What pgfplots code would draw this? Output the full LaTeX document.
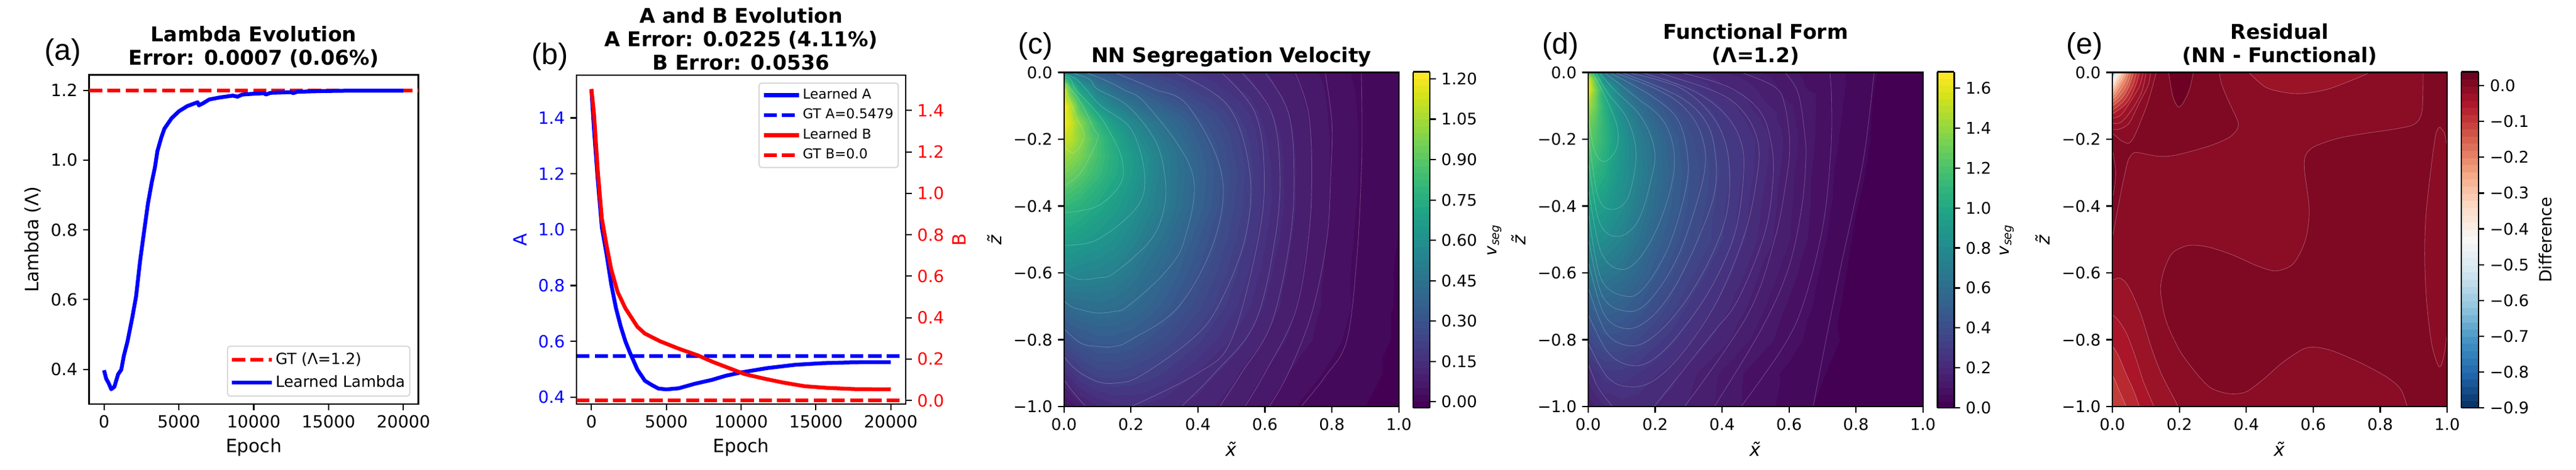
\documentclass[border=0pt]{standalone}
\usepackage{fontspec}
\setmainfont{DejaVu Sans}
\newfontfamily\letfam{Liberation Sans}
\usepackage{pgfplots}
\pgfplotsset{compat=1.18}
\newcommand\tickA{\fontsize{6.58}{8}\selectfont}
\newcommand\tickC{\fontsize{6.28}{8}\selectfont}
\newcommand\labf{\fontsize{7.15}{8.6}\selectfont}
\newcommand\titf{\fontsize{7.95}{9.15}\selectfont\bfseries}
\newcommand\letf{\fontsize{11.56}{13}\selectfont\letfam}
\newcommand\cblab{\fontsize{6.5}{8}\selectfont}
\pgfplotsset{
  colorbar shift/.style={},
  colormap={vir}{samples of colormap=(50 of viridis)},
  colormap={rdbu}{rgb255=(5,48,97) rgb255=(33,102,172) rgb255=(67,147,195) rgb255=(146,197,222) rgb255=(209,229,240) rgb255=(247,247,247) rgb255=(253,219,199) rgb255=(244,165,130) rgb255=(214,96,77) rgb255=(178,24,43) rgb255=(103,0,31)},
  base/.style={
    scale only axis, anchor=south west,
    tick align=outside, xtick pos=bottom, ytick pos=left,
    major tick length=2.3bp,
    tick style={black,line width=.524bp},
    axis line style={line width=.524bp},
    xlabel=Epoch,
    xlabel style={font=\labf,at={(axis description cs:0.5,-0.131)},anchor=center},
    tick label style={inner sep=2pt},
    scaled ticks=false,
    title style={font=\titf,align=center,at={(0.5,1)},anchor=south,inner sep=0pt},
    legend cell align=left,
    line/.style={line width=1.5bp,line join=round},
    dsh/.style={line width=1.5bp,dash pattern=on 5.1bp off 2bp},
    legend image code/.code={\draw[##1] (0,0) -- (13.2bp,0);\path (0,0) -- (15.4bp,0);},
  },
  field/.style={
    base, width=130.32bp, height=130.18bp,
    xmin=0,xmax=1,ymin=-1,ymax=0,
    axis on top,
    xtick={0,.2,.4,.6,.8,1},xticklabels={0.0,0.2,0.4,0.6,0.8,1.0},
    ytick={0,-.2,-.4,-.6,-.8,-1},yticklabels={0.0,−0.2,−0.4,−0.6,−0.8,−1.0},
    tick label style={font=\tickC},
    xlabel={\textit{\~x}},
    xlabel style={at={(axis description cs:0.5,-0.127)},anchor=center},
    ylabel={\textit{\~z}},
    ylabel style={font=\labf,at={(axis description cs:-0.208,0.5)},anchor=center},
  },
  cb/.style={
    scale only axis, at={(parent axis.south east)}, anchor=south west,
    height=130.9bp, yshift=-.48bp,
    tick align=outside, ytick pos=right, yticklabel pos=right,
    major tick length=2.3bp,
    tick style={black,line width=.524bp},
    axis line style={line width=.524bp},
    tick label style={font=\tickC,inner sep=2pt},
  },
  reg/.style={draw=white,draw opacity=.3,line width=.2bp,fill=#1,smooth,tension=.5,forget plot},
  cl/.style={draw=white,draw opacity=.24,line width=.2bp,smooth,tension=.6,forget plot},
}
\definecolor{eA}{HTML}{7F0823}
\definecolor{eB}{HTML}{8A0C25}
\definecolor{eC}{HTML}{9A1327}
\definecolor{eD}{HTML}{AA1529}
\definecolor{eE}{HTML}{B82A30}
\definecolor{eF}{HTML}{C33D3B}
\definecolor{eZ}{HTML}{6D0023}
\definecolor{k1}{RGB}{149,15,38}
\definecolor{k2}{RGB}{210,88,73}
\definecolor{k3}{RGB}{219,107,85}
\definecolor{k4}{RGB}{229,131,104}
\definecolor{k5}{RGB}{240,156,123}
\definecolor{k6}{RGB}{246,183,153}
\definecolor{k7}{RGB}{250,208,185}
\definecolor{k8}{RGB}{251,229,216}
\definecolor{k9}{RGB}{241,241,241}
\definecolor{k10}{RGB}{207,228,239}
\definecolor{k11}{RGB}{110,170,210}
\begin{document}
\begin{tikzpicture}
\path[use as bounding box] (0,0) rectangle (1002.72bp,182.88bp);
% ---------------- (a)
\begin{axis}[base,at={(34.66bp,25.44bp)},width=128.2bp,height=128.28bp,
  xmin=-1000,xmax=21000,ymin=.3004,ymax=1.2446,
  xtick={0,5000,10000,15000,20000},xticklabels={0,5000,10000,15000,20000},
  ytick={.4,.6,.8,1,1.2},yticklabels={0.4,0.6,0.8,1.0,1.2},
  tick label style={font=\tickA},
  ylabel={Lambda (Λ)},
  ylabel style={font=\labf,at={(axis description cs:-0.17,0.5)},anchor=center},
  title style={yshift=-3.4bp},
  title={Lambda Evolution\\Error: 0.0007 (0.06\%)},
  legend style={font=\fontsize{6.03}{8}\selectfont,at={(0.9757,0.0224)},anchor=south east,draw=black!15,rounded corners=1bp,line width=.5bp,row sep=2.9bp,inner xsep=1bp,inner ysep=2.15bp,nodes={inner xsep=.8bp,inner ysep=0pt,text height=4.8bp,text depth=1.3bp}},
]
\addplot[red,dsh] coordinates {(-1000,1.2) (21000,1.2)};
\addlegendentry{GT (Λ=1.2)}
\addplot[blue,line] coordinates {(0,.3975)(147,.373)(315,.36)(483,.343)(693,.35)(944,.386)(1154,.399)(1322,.438)(1574,.481)(1889,.549)(2140,.609)(2413,.712)(2686,.798)(2938,.876)(3190,.936)(3400,.979)(3568,1.026)(3820,1.064)(4030,1.09)(4512,1.12)(5000,1.14)(5561,1.155)(6254,1.166)(6338,1.157)(6611,1.163)(7030,1.174)(7765,1.18)(8604,1.185)(8919,1.182)(9234,1.188)(9864,1.19)(10703,1.192)(10808,1.188)(11123,1.193)(12487,1.195)(12634,1.192)(12907,1.196)(14480,1.198)(16160,1.199)(20000,1.1993)};
\addlegendentry{Learned Lambda}
\end{axis}
% ---------------- (b)
\begin{axis}[base,at={(224.4bp,25.44bp)},width=128.16bp,height=128.16bp,
  xmin=-1000,xmax=21000,ymin=.3753,ymax=1.5534,
  xtick={0,5000,10000,15000,20000},xticklabels={0,5000,10000,15000,20000},
  ytick={.4,.6,.8,1,1.2,1.4},yticklabels={0.4,0.6,0.8,1.0,1.2,1.4},
  tick label style={font=\tickA},
  yticklabel style={blue},
  ylabel={A},
  ylabel style={font=\labf,blue,at={(axis description cs:-0.1715,0.5)},anchor=center},
  title style={yshift=-4.2bp},
  title={A and B Evolution\\A Error: 0.0225 (4.11\%)\\B Error: 0.0536},
]
\addplot[blue,line] coordinates {(0,1.5)(168,1.362)(420,1.18)(693,1.008)(1008,.912)(1323,.804)(1639,.719)(1954,.654)(2269,.60)(2584,.558)(3067,.499)(3571,.459)(4055,.443)(4475,.431)(5000,.428)(5840,.432)(6890,.448)(8046,.462)(8991,.477)(10042,.489)(11722,.504)(13613,.516)(15504,.522)(17605,.525)(20000,.5254)};
\addplot[blue,dsh] coordinates {(-1000,.5479)(21000,.5479)};
\end{axis}
\begin{axis}[base,at={(224.4bp,25.44bp)},width=128.16bp,height=128.16bp,
  xmin=-1000,xmax=21000,ymin=-.0174,ymax=1.5707,
  xtick=\empty,xlabel={},ytick pos=right,yticklabel pos=right,
  ytick={0,.2,.4,.6,.8,1,1.2,1.4},yticklabels={0.0,0.2,0.4,0.6,0.8,1.0,1.2,1.4},
  tick label style={font=\tickA},
  yticklabel style={red},
  ylabel={B},
  ylabel style={font=\labf,red,at={(axis description cs:1.163,0.5)},anchor=center},
  legend style={font=\fontsize{5.3}{6.5}\selectfont,at={(0.979,0.978)},anchor=north east,draw=black!15,rounded corners=1bp,line width=.5bp,row sep=2.8bp,inner xsep=1bp,inner ysep=2.25bp,nodes={inner xsep=.8bp,inner ysep=0pt,text height=3.9bp,text depth=1.1bp}},
  legend image code/.code={\draw[#1] (0,0) -- (12bp,0);\path (0,0) -- (13.7bp,0);},
]
\addlegendimage{blue,line}\addlegendentry{Learned A}
\addlegendimage{blue,dsh}\addlegendentry{GT A=0.5479}
\addplot[red,line] coordinates {(0,1.504)(168,1.386)(420,1.111)(693,.879)(1008,.749)(1323,.633)(1744,.525)(2269,.445)(3067,.356)(3571,.323)(4580,.286)(5840,.25)(7101,.218)(8151,.185)(9201,.156)(10251,.127)(11512,.106)(12773,.087)(14243,.069)(15714,.061)(17605,.055)(20000,.0536)};
\addlegendentry{Learned B}
\addplot[red,dsh] coordinates {(-1000,0)(21000,0)};
\addlegendentry{GT B=0.0}
\end{axis}
% ---------------- (c)
\begin{axis}[field,at={(414.17bp,24.48bp)},
  title style={yshift=-4.1bp},
  title={NN Segregation Velocity},
  colormap name=vir, colormap access=piecewise constant,
  point meta min=-.022,point meta max=1.226,
  colorbar sampled={surf,shader=flat mean,samples=51},
  colorbar style={cb,width=6.55bp,xshift=5.52bp,
    ytick={0,.15,.3,.45,.6,.75,.9,1.05,1.2},yticklabels={0.00,0.15,0.30,0.45,0.60,0.75,0.90,1.05,1.20},
    ylabel={\textit{v}\textsubscript{\textit{seg}}},
    ylabel style={font=\cblab,at={(axis description cs:4.85,0.5)},anchor=center}},
]
\addplot[surf,shader=interp,mesh/cols=15,point meta=explicit] coordinates {
(0,0)[.55](.02,0)[.5](.05,0)[.42](.1,0)[.34](.15,0)[.3](.2,0)[.26](.25,0)[.23](.3,0)[.21](.4,0)[.17](.5,0)[.14](.6,0)[.105](.7,0)[.07](.8,0)[.04](.9,0)[.018](1,0)[.004]
(0,-.02)[.85](.02,-.02)[.68](.05,-.02)[.53](.1,-.02)[.41](.15,-.02)[.35](.2,-.02)[.3](.25,-.02)[.27](.3,-.02)[.24](.4,-.02)[.19](.5,-.02)[.15](.6,-.02)[.11](.7,-.02)[.075](.8,-.02)[.042](.9,-.02)[.018](1,-.02)[.004]
(0,-.05)[1.12](.02,-.05)[.88](.05,-.05)[.68](.1,-.05)[.51](.15,-.05)[.42](.2,-.05)[.36](.25,-.05)[.32](.3,-.05)[.28](.4,-.05)[.215](.5,-.05)[.165](.6,-.05)[.115](.7,-.05)[.08](.8,-.05)[.045](.9,-.05)[.02](1,-.05)[.004]
(0,-.1)[1.22](.02,-.1)[1.08](.05,-.1)[.85](.1,-.1)[.64](.15,-.1)[.53](.2,-.1)[.46](.25,-.1)[.4](.3,-.1)[.35](.4,-.1)[.27](.5,-.1)[.2](.6,-.1)[.13](.7,-.1)[.085](.8,-.1)[.047](.9,-.1)[.021](1,-.1)[.004]
(0,-.15)[1.2](.02,-.15)[1.13](.05,-.15)[.99](.1,-.15)[.79](.15,-.15)[.66](.2,-.15)[.56](.25,-.15)[.49](.3,-.15)[.43](.4,-.15)[.32](.5,-.15)[.23](.6,-.15)[.145](.7,-.15)[.09](.8,-.15)[.048](.9,-.15)[.022](1,-.15)[.004]
(0,-.2)[1.12](.02,-.2)[1.09](.05,-.2)[1.0](.1,-.2)[.85](.15,-.2)[.73](.2,-.2)[.62](.25,-.2)[.54](.3,-.2)[.47](.4,-.2)[.35](.5,-.2)[.25](.6,-.2)[.155](.7,-.2)[.095](.8,-.2)[.05](.9,-.2)[.022](1,-.2)[.004]
(0,-.25)[1.03](.02,-.25)[1.01](.05,-.25)[.96](.1,-.25)[.85](.15,-.25)[.75](.2,-.25)[.66](.25,-.25)[.58](.3,-.25)[.5](.4,-.25)[.37](.5,-.25)[.26](.6,-.25)[.16](.7,-.25)[.097](.8,-.25)[.05](.9,-.25)[.022](1,-.25)[.004]
(0,-.3)[.96](.02,-.3)[.94](.05,-.3)[.9](.1,-.3)[.82](.15,-.3)[.74](.2,-.3)[.66](.25,-.3)[.58](.3,-.3)[.5](.4,-.3)[.38](.5,-.3)[.27](.6,-.3)[.165](.7,-.3)[.098](.8,-.3)[.05](.9,-.3)[.022](1,-.3)[.004]
(0,-.4)[.8](.02,-.4)[.79](.05,-.4)[.77](.1,-.4)[.72](.15,-.4)[.67](.2,-.4)[.61](.25,-.4)[.55](.3,-.4)[.49](.4,-.4)[.37](.5,-.4)[.26](.6,-.4)[.165](.7,-.4)[.097](.8,-.4)[.05](.9,-.4)[.02](1,-.4)[.003]
(0,-.5)[.68](.02,-.5)[.68](.05,-.5)[.66](.1,-.5)[.63](.15,-.5)[.6](.2,-.5)[.55](.25,-.5)[.49](.3,-.5)[.44](.4,-.5)[.33](.5,-.5)[.24](.6,-.5)[.155](.7,-.5)[.09](.8,-.5)[.046](.9,-.5)[.018](1,-.5)[.002]
(0,-.6)[.56](.02,-.6)[.56](.05,-.6)[.55](.1,-.6)[.54](.15,-.6)[.52](.2,-.6)[.48](.25,-.6)[.43](.3,-.6)[.39](.4,-.6)[.3](.5,-.6)[.215](.6,-.6)[.14](.7,-.6)[.082](.8,-.6)[.043](.9,-.6)[.016](1,-.6)[0]
(0,-.7)[.41](.02,-.7)[.42](.05,-.7)[.43](.1,-.7)[.44](.15,-.7)[.43](.2,-.7)[.41](.25,-.7)[.38](.3,-.7)[.34](.4,-.7)[.26](.5,-.7)[.19](.6,-.7)[.125](.7,-.7)[.075](.8,-.7)[.042](.9,-.7)[.018](1,-.7)[0]
(0,-.8)[.28](.02,-.8)[.3](.05,-.8)[.32](.1,-.8)[.34](.15,-.8)[.34](.2,-.8)[.33](.25,-.8)[.3](.3,-.8)[.27](.4,-.8)[.21](.5,-.8)[.15](.6,-.8)[.1](.7,-.8)[.065](.8,-.8)[.035](.9,-.8)[.012](1,-.8)[0]
(0,-.9)[.15](.02,-.9)[.17](.05,-.9)[.21](.1,-.9)[.24](.15,-.9)[.245](.2,-.9)[.235](.25,-.9)[.22](.3,-.9)[.2](.4,-.9)[.15](.5,-.9)[.11](.6,-.9)[.075](.7,-.9)[.043](.8,-.9)[.022](.9,-.9)[.006](1,-.9)[0]
(0,-1)[.04](.02,-1)[.06](.05,-1)[.09](.1,-1)[.125](.15,-1)[.145](.2,-1)[.15](.25,-1)[.145](.3,-1)[.135](.4,-1)[.115](.5,-1)[.09](.6,-1)[.055](.7,-1)[.026](.8,-1)[.01](.9,-1)[.003](1,-1)[0]
};
\addplot[cl] coordinates {(.888,0)(.89,-.15)(.888,-.3)(.875,-.55)(.845,-.8)(.78,-.91)(.708,-1)};
\addplot[cl] coordinates {(.78,0)(.8,-.15)(.797,-.3)(.785,-.5)(.74,-.72)(.67,-.9)(.613,-1)};
\addplot[cl] coordinates {(.69,0)(.73,-.12)(.74,-.3)(.73,-.5)(.69,-.72)(.6,-.9)(.54,-1)};
\addplot[cl] coordinates {(.6,0)(.67,-.12)(.687,-.3)(.675,-.5)(.62,-.75)(.53,-.9)(.465,-1)};
\addplot[cl] coordinates {(.53,0)(.62,-.12)(.645,-.3)(.63,-.5)(.57,-.75)(.45,-.9)(.35,-1)};
\addplot[cl] coordinates {(.47,0)(.57,-.12)(.598,-.3)(.58,-.5)(.5,-.8)(.4,-.9)(.2,-1)};
\addplot[cl] coordinates {(.33,0)(.49,-.1)(.555,-.3)(.54,-.5)(.46,-.7)(.38,-.8)(.225,-.91)(.15,-.93)(.1,-.925)(.05,-.9)(.02,-.875)(0,-.85)};
\addplot[cl] coordinates {(.15,0)(.2,-.02)(.27,-.05)(.37,-.1)(.47,-.3)(.45,-.5)(.343,-.7)(.2,-.8)(.15,-.82)(.1,-.82)(.05,-.81)(0,-.767)};
\addplot[cl] coordinates {(.0625,0)(.115,-.02)(.175,-.05)(.25,-.1)(.383,-.3)(.36,-.5)(.3,-.6)(.19,-.7)(.15,-.715)(.1,-.72)(.05,-.71)(.02,-.7)(0,-.683)};
\addplot[cl] coordinates {(.02,0)(.075,-.02)(.1,-.05)(.19,-.1)(.27,-.2)(.3,-.3)(.3,-.4)(.26,-.5)(.15,-.6)(.1,-.615)(.05,-.62)(.02,-.61)(0,-.6)};
\addplot[cl] coordinates {(0,-.005)(.036,-.02)(.065,-.05)(.11,-.1)(.2,-.17)(.24,-.3)(.22,-.4)(.1,-.5)(0,-.517)};
\addplot[cl] coordinates {(0,-.012)(.02,-.02)(.034,-.05)(.08,-.1)(.12,-.15)(.17,-.25)(.17,-.33)(.1,-.4)(0,-.42)};
\addplot[cl] coordinates {(0,-.03)(.02,-.05)(.05,-.09)(.09,-.17)(.1,-.2)(.05,-.3)(0,-.34)};
\addplot[cl] coordinates {(0,-.042)(.02,-.09)(.04,-.14)(.06,-.19)(.03,-.24)(0,-.22)};
\addplot[cl] coordinates {(0,-.92)(.03,-.96)(.065,-1)};
\end{axis}
% ---------------- (d)
\begin{axis}[field,at={(618.19bp,24.48bp)},
  title style={yshift=-3.4bp},
  title={Functional Form\\(Λ=1.2)},
  colormap name=vir, colormap access=piecewise constant,
  point meta min=0,point meta max=1.682,
  colorbar sampled={surf,shader=flat mean,samples=51},
  colorbar style={cb,width=6.48bp,xshift=5.66bp,
    ytick={0,.2,.4,.6,.8,1,1.2,1.4,1.6},yticklabels={0.0,0.2,0.4,0.6,0.8,1.0,1.2,1.4,1.6},
    ylabel={\textit{v}\textsubscript{\textit{seg}}},
    ylabel style={font=\cblab,at={(axis description cs:4.18,0.5)},anchor=center}},
]
\addplot[surf,shader=interp,mesh/cols=15,point meta=explicit] coordinates {
(0,0)[1.3](.02,0)[1.0](.05,0)[.62](.1,0)[.44](.15,0)[.33](.2,0)[.27](.25,0)[.23](.3,0)[.2](.4,0)[.17](.5,0)[.14](.6,0)[.11](.7,0)[.08](.8,0)[.06](.9,0)[.018](1,0)[0]
(0,-.02)[1.6](.02,-.02)[1.25](.05,-.02)[.8](.1,-.02)[.55](.15,-.02)[.43](.2,-.02)[.35](.25,-.02)[.29](.3,-.02)[.25](.4,-.02)[.19](.5,-.02)[.155](.6,-.02)[.112](.7,-.02)[.085](.8,-.02)[.058](.9,-.02)[.017](1,-.02)[0]
(0,-.05)[1.65](.02,-.05)[1.35](.05,-.05)[.98](.1,-.05)[.68](.15,-.05)[.52](.2,-.05)[.42](.25,-.05)[.35](.3,-.05)[.29](.4,-.05)[.21](.5,-.05)[.17](.6,-.05)[.114](.7,-.05)[.09](.8,-.05)[.055](.9,-.05)[.015](1,-.05)[0]
(0,-.1)[1.45](.02,-.1)[1.3](.05,-.1)[1.05](.1,-.1)[.78](.15,-.1)[.62](.2,-.1)[.5](.25,-.1)[.41](.3,-.1)[.345](.4,-.1)[.266](.5,-.1)[.19](.6,-.1)[.14](.7,-.1)[.09](.8,-.1)[.052](.9,-.1)[.014](1,-.1)[0]
(0,-.15)[1.32](.02,-.15)[1.24](.05,-.15)[1.07](.1,-.15)[.84](.15,-.15)[.68](.2,-.15)[.56](.25,-.15)[.46](.3,-.15)[.39](.4,-.15)[.29](.5,-.15)[.215](.6,-.15)[.145](.7,-.15)[.088](.8,-.15)[.05](.9,-.15)[.014](1,-.15)[0]
(0,-.2)[1.25](.02,-.2)[1.2](.05,-.2)[1.08](.1,-.2)[.87](.15,-.2)[.72](.2,-.2)[.6](.25,-.2)[.5](.3,-.2)[.42](.4,-.2)[.308](.5,-.2)[.235](.6,-.2)[.152](.7,-.2)[.085](.8,-.2)[.048](.9,-.2)[.014](1,-.2)[0]
(0,-.25)[1.18](.02,-.25)[1.15](.05,-.25)[1.05](.1,-.25)[.87](.15,-.25)[.73](.2,-.25)[.61](.25,-.25)[.51](.3,-.25)[.43](.4,-.25)[.32](.5,-.25)[.233](.6,-.25)[.15](.7,-.25)[.083](.8,-.25)[.045](.9,-.25)[.013](1,-.25)[0]
(0,-.3)[1.11](.02,-.3)[1.09](.05,-.3)[1.02](.1,-.3)[.86](.15,-.3)[.74](.2,-.3)[.62](.25,-.3)[.52](.3,-.3)[.44](.4,-.3)[.325](.5,-.3)[.23](.6,-.3)[.145](.7,-.3)[.08](.8,-.3)[.042](.9,-.3)[.012](1,-.3)[0]
(0,-.4)[.97](.02,-.4)[.96](.05,-.4)[.92](.1,-.4)[.82](.15,-.4)[.7](.2,-.4)[.59](.25,-.4)[.5](.3,-.4)[.43](.4,-.4)[.31](.5,-.4)[.215](.6,-.4)[.14](.7,-.4)[.078](.8,-.4)[.035](.9,-.4)[.01](1,-.4)[0]
(0,-.5)[.83](.02,-.5)[.83](.05,-.5)[.81](.1,-.5)[.74](.15,-.5)[.64](.2,-.5)[.54](.25,-.5)[.46](.3,-.5)[.4](.4,-.5)[.305](.5,-.5)[.205](.6,-.5)[.135](.7,-.5)[.072](.8,-.5)[.028](.9,-.5)[.009](1,-.5)[0]
(0,-.6)[.68](.02,-.6)[.69](.05,-.6)[.68](.1,-.6)[.63](.15,-.6)[.56](.2,-.6)[.48](.25,-.6)[.41](.3,-.6)[.35](.4,-.6)[.26](.5,-.6)[.175](.6,-.6)[.115](.7,-.6)[.062](.8,-.6)[.022](.9,-.6)[.008](1,-.6)[0]
(0,-.7)[.51](.02,-.7)[.53](.05,-.7)[.54](.1,-.7)[.52](.15,-.7)[.47](.2,-.7)[.41](.25,-.7)[.35](.3,-.7)[.295](.4,-.7)[.218](.5,-.7)[.152](.6,-.7)[.095](.7,-.7)[.055](.8,-.7)[.015](.9,-.7)[.006](1,-.7)[0]
(0,-.8)[.37](.02,-.8)[.4](.05,-.8)[.42](.1,-.8)[.41](.15,-.8)[.37](.2,-.8)[.32](.25,-.8)[.28](.3,-.8)[.24](.4,-.8)[.18](.5,-.8)[.125](.6,-.8)[.08](.7,-.8)[.048](.8,-.8)[.02](.9,-.8)[.004](1,-.8)[0]
(0,-.9)[.22](.02,-.9)[.26](.05,-.9)[.29](.1,-.9)[.29](.15,-.9)[.27](.2,-.9)[.24](.25,-.9)[.215](.3,-.9)[.18](.4,-.9)[.13](.5,-.9)[.085](.6,-.9)[.06](.7,-.9)[.036](.8,-.9)[.012](.9,-.9)[.002](1,-.9)[0]
(0,-1)[.14](.02,-1)[.17](.05,-1)[.2](.1,-1)[.22](.15,-1)[.215](.2,-1)[.2](.25,-1)[.185](.3,-1)[.165](.4,-1)[.125](.5,-1)[.085](.6,-1)[.055](.7,-1)[.025](.8,-1)[.008](.9,-1)[.001](1,-1)[0]
};
\addplot[cl] coordinates {(.854,0)(.827,-.231)(.792,-.41)(.757,-.57)(.717,-.767)(.672,-1)};
\addplot[cl] coordinates {(.722,0)(.727,-.08)(.725,-.231)(.702,-.455)(.647,-.679)(.587,-.814)(.457,-1)};
\addplot[cl] coordinates {(.587,0)(.627,-.061)(.647,-.186)(.65,-.267)(.637,-.41)(.597,-.59)(.517,-.769)(.377,-1)};
\addplot[cl] coordinates {(.457,0)(.557,-.043)(.587,-.097)(.602,-.213)(.592,-.321)(.557,-.5)(.477,-.724)(.288,-1)};
\addplot[cl] coordinates {(.273,0)(.418,-.043)(.512,-.115)(.547,-.213)(.552,-.321)(.527,-.482)(.448,-.679)(.367,-.787)(.197,-1)};
\addplot[cl] coordinates {(.208,0)(.388,-.061)(.468,-.124)(.508,-.213)(.503,-.321)(.468,-.482)(.388,-.679)(.288,-.832)(.198,-.921)(.123,-.941)(.058,-.912)(0,-.809)};
\addplot[cl] coordinates {(.158,0)(.308,-.052)(.408,-.124)(.458,-.213)(.463,-.321)(.438,-.482)(.368,-.643)(.268,-.787)(.188,-.863)(.123,-.876)(.058,-.836)(0,-.724)};
\addplot[cl] coordinates {(.118,0)(.268,-.043)(.358,-.115)(.408,-.204)(.423,-.321)(.408,-.446)(.348,-.59)(.268,-.715)(.188,-.796)(.123,-.818)(.053,-.778)(0,-.643)};
\addplot[cl] coordinates {(.098,0)(.268,-.07)(.348,-.142)(.378,-.231)(.378,-.357)(.328,-.5)(.258,-.643)(.188,-.733)(.118,-.767)(.048,-.724)(0,-.563)};
\addplot[cl] coordinates {(.078,0)(.208,-.052)(.288,-.106)(.338,-.186)(.348,-.294)(.298,-.473)(.248,-.59)(.178,-.688)(.118,-.715)(.043,-.67)(0,-.491)};
\addplot[cl] coordinates {(.063,0)(.188,-.07)(.268,-.142)(.298,-.258)(.288,-.366)(.238,-.527)(.168,-.643)(.113,-.67)(.038,-.616)(0,-.41)};
\addplot[cl] coordinates {(.048,0)(.138,-.07)(.228,-.15)(.258,-.267)(.228,-.41)(.168,-.536)(.103,-.59)(.038,-.536)(0,-.339)};
\addplot[cl] coordinates {(.033,0)(.078,-.052)(.158,-.133)(.198,-.231)(.188,-.321)(.148,-.446)(.088,-.491)(.033,-.446)(0,-.258)};
\addplot[cl] coordinates {(.023,0)(.058,-.061)(.118,-.142)(.143,-.249)(.118,-.376)(.068,-.41)(.028,-.366)(0,-.177)};
\addplot[cl] coordinates {(.013,0)(.058,-.088)(.088,-.168)(.083,-.231)(.048,-.267)(.018,-.231)(0,-.124)};
\addplot[cl] coordinates {(0,-.87)(.028,-.94)(.073,-1)};
\end{axis}
% ---------------- (e)
\begin{axis}[field,at={(822.24bp,24.48bp)},
  title style={yshift=-3.4bp},
  title={Residual\\(NN - Functional)},
  colormap name=rdbu,
  point meta min=-.9,point meta max=.039,
  colorbar sampled={surf,shader=flat mean,samples=48},
  colorbar style={cb,width=6.72bp,xshift=5.42bp,
    ytick={0,-.1,-.2,-.3,-.4,-.5,-.6,-.7,-.8,-.9},yticklabels={0.0,−0.1,−0.2,−0.3,−0.4,−0.5,−0.6,−0.7,−0.8,−0.9},
    ylabel={Difference},
    ylabel style={font=\cblab,at={(axis description cs:4.9,0.5)},anchor=center}},
]
\addplot[reg=eB] coordinates {(-.1,.1)(1.1,.1)(1.1,-1.1)(-.1,-1.1)} --cycle;
\addplot[reg=eA] coordinates {(0,-.496)(.026,-.357)(.046,-.267)(.062,-.242)(.077,-.24)(.139,-.251)(.191,-.247)(.284,-.222)(.345,-.197)(.371,-.173)(.376,-.151)(.361,-.115)(.34,-.07)(.325,-.03)(.32,0)(.32,.03)(-.03,.03)(-.03,-.52)} --cycle;
\addplot[reg=eA] coordinates {(.928,0)(.925,-.115)(.902,-.155)(.84,-.17)(.758,-.182)(.675,-.197)(.603,-.222)(.577,-.249)(.574,-.294)(.588,-.41)(.577,-.5)(.541,-.572)(.49,-.594)(.438,-.581)(.356,-.545)(.284,-.522)(.227,-.518)(.18,-.54)(.155,-.59)(.144,-.652)(.16,-.742)(.201,-.832)(.253,-.903)(.294,-.944)(.345,-.961)(.397,-.957)(.448,-.921)(.51,-.867)(.572,-.827)(.613,-.823)(.665,-.836)(.747,-.872)(.82,-.912)(.861,-.948)(.881,-1)(.89,-1.03)(1.03,-1.03)(1.03,.03)(.928,.03)} --cycle;
\addplot[reg=eB] coordinates {(.979,-.164)(.964,-.195)(.938,-.41)(.933,-.545)(.938,-.679)(.954,-.814)(.976,-.881)(.99,-.849)(1,-.769)(1.02,-.5)(1,-.231)(.99,-.177)} --cycle;
\addplot[reg=eC] coordinates {(.407,0)(.459,-.045)(.521,-.061)(.572,-.063)(.644,-.05)(.716,-.023)(.766,0)(.78,.03)(.39,.03)} --cycle;
\addplot[reg=eZ] coordinates {(.168,0)(.18,-.07)(.196,-.103)(.211,-.092)(.23,-.052)(.242,0)(.245,.03)(.165,.03)} --cycle;
\addplot[reg=eZ] coordinates {(0,-.23)(.01,-.3)(0,-.37)(-.02,-.3)} --cycle;
\addplot[reg=eC] coordinates {(-.03,-.621)(0,-.621)(.021,-.615)(.041,-.63)(.062,-.668)(.087,-.729)(.118,-.828)(.149,-.908)(.196,-1)(.2,-1.03)(-.03,-1.03)} --cycle;
\addplot[reg=eD] coordinates {(-.03,-.726)(0,-.726)(.02,-.745)(.044,-.785)(.069,-.852)(.093,-.926)(.124,-1)(.13,-1.03)(-.03,-1.03)} --cycle;
\addplot[reg=eE] coordinates {(-.03,-.82)(0,-.82)(.02,-.852)(.041,-.902)(.063,-.951)(.081,-1)(.09,-1.03)(-.03,-1.03)} --cycle;
\addplot[reg=eF] coordinates {(-.03,-.908)(0,-.908)(.02,-.951)(.041,-1)(.05,-1.03)(-.03,-1.03)} --cycle;
% corner
\addplot[reg=eB] coordinates {(-.03,-.183)(0,-.183)(.026,-.204)(.047,-.212)(.06,-.201)(.075,-.17)(.106,-.09)(.131,0)(.135,.03)(-.03,.03)} --cycle;
\addplot[reg=k1] coordinates {(-.03,-.17)(0,-.17)(.02,-.17)(.05,-.152)(.081,-.09)(.106,-.041)(.115,0)(.12,.03)(-.03,.03)} --cycle;
\addplot[reg=eC] coordinates {(-.03,-.153)(0,-.153)(.026,-.149)(.056,-.115)(.087,-.06)(.101,0)(.105,.03)(-.03,.03)} --cycle;
\addplot[reg=eD] coordinates {(-.03,-.137)(0,-.137)(.026,-.127)(.056,-.084)(.081,-.041)(.092,0)(.095,.03)(-.03,.03)} --cycle;
\addplot[reg=eE] coordinates {(-.03,-.124)(0,-.124)(.044,-.09)(.069,-.041)(.081,0)(.085,.03)(-.03,.03)} --cycle;
\addplot[reg=eF] coordinates {(-.03,-.112)(0,-.112)(.035,-.084)(.06,-.041)(.072,0)(.075,.03)(-.03,.03)} --cycle;
\addplot[reg=k2] coordinates {(-.03,-.1)(0,-.1)(.03,-.075)(.05,-.04)(.063,0)(.066,.03)(-.03,.03)} --cycle;
\addplot[reg=k3] coordinates {(-.03,-.09)(0,-.09)(.025,-.066)(.045,-.035)(.055,0)(.058,.03)(-.03,.03)} --cycle;
\addplot[reg=k4] coordinates {(-.03,-.08)(0,-.08)(.022,-.056)(.038,-.03)(.048,0)(.05,.03)(-.03,.03)} --cycle;
\addplot[reg=k5] coordinates {(-.03,-.07)(0,-.07)(.018,-.047)(.032,-.025)(.042,0)(.044,.03)(-.03,.03)} --cycle;
\addplot[reg=k6] coordinates {(-.03,-.06)(0,-.06)(.015,-.04)(.028,-.02)(.036,0)(.038,.03)(-.03,.03)} --cycle;
\addplot[reg=k7] coordinates {(-.03,-.05)(0,-.05)(.012,-.032)(.023,-.015)(.03,0)(.032,.03)(-.03,.03)} --cycle;
\addplot[reg=k8] coordinates {(-.03,-.04)(0,-.04)(.01,-.025)(.018,-.012)(.024,0)(.026,.03)(-.03,.03)} --cycle;
\addplot[reg=k9] coordinates {(-.03,-.03)(0,-.03)(.008,-.018)(.014,-.008)(.018,0)(.02,.03)(-.03,.03)} --cycle;
\addplot[reg=k10] coordinates {(-.03,-.02)(0,-.02)(.005,-.012)(.009,-.005)(.012,0)(.014,.03)(-.03,.03)} --cycle;
\addplot[reg=k11] coordinates {(-.03,-.012)(0,-.012)(.004,-.006)(.007,0)(.008,.03)(-.03,.03)} --cycle;
\end{axis}
% panel letters
\node[font=\letf,anchor=base] at (24.5bp,159.4bp) {(a)};
\node[font=\letf,anchor=base] at (214.1bp,157.8bp) {(b)};
\node[font=\letf,anchor=base] at (403bp,161.9bp) {(c)};
\node[font=\letf,anchor=base] at (607.4bp,161.9bp) {(d)};
\node[font=\letf,anchor=base] at (811.4bp,161.9bp) {(e)};
\end{tikzpicture}
\end{document}
